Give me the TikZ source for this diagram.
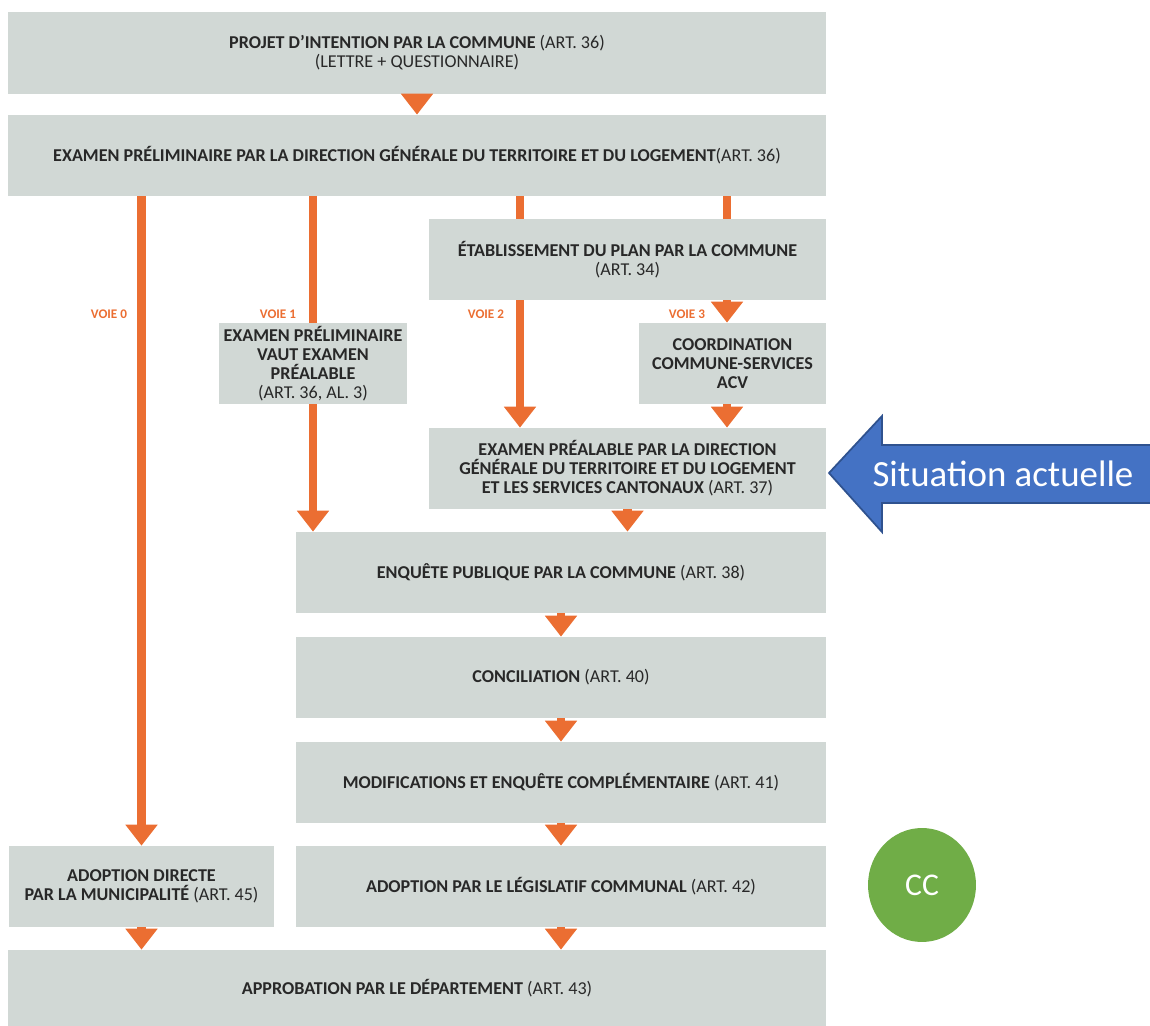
\documentclass[tikz,border=0pt]{standalone}
\usepackage{fontspec}
\setmainfont{Carlito}
\usetikzlibrary{arrows.meta,shapes.geometric}

\definecolor{gris}{RGB}{209,216,213}
\definecolor{orangevoie}{RGB}{235,110,50}
\definecolor{texte}{RGB}{40,40,40}
\definecolor{bleu}{RGB}{68,114,196}
\definecolor{bleufonce}{RGB}{47,82,143}
\definecolor{vert}{RGB}{112,173,71}

\begin{document}
\begin{tikzpicture}[x=0.02cm, y=-0.02cm,
    etape/.style={fill=gris, inner sep=0pt, align=center, text=texte,
        minimum height=1.62cm, font=\bfseries\fontsize{10.3}{10.9}\selectfont},
    trait/.style={draw=orangevoie, line width=0.17cm},
    fleche/.style={trait, -{Triangle[width=0.62cm,length=0.42cm]}},
    voie/.style={text=orangevoie, font=\bfseries\fontsize{7.5}{8}\selectfont}]
    \useasboundingbox (0, 0) rectangle (1150, 1026);

    % les étapes
    \node[etape, minimum width=16.36cm, minimum height=1.64cm] (projet) at (417, 53)
        {PROJET D'INTENTION PAR LA COMMUNE {\mdseries(ART. 36)}\\ {\mdseries(LETTRE + QUESTIONNAIRE)}};
    \node[etape, minimum width=16.36cm] (prelim) at (417, 155.5)
        {EXAMEN PRÉLIMINAIRE PAR LA DIRECTION GÉNÉRALE DU TERRITOIRE ET DU LOGEMENT{\mdseries(ART. 36)}};
    \node[etape, minimum width=7.94cm] (etab) at (627.5, 259.5)
        {ÉTABLISSEMENT DU PLAN PAR LA COMMUNE\\ {\mdseries(ART. 34)}};
    \node[etape, minimum width=3.76cm] (vaut) at (313, 363.5)
        {EXAMEN PRÉLIMINAIRE\\ VAUT EXAMEN\\ PRÉALABLE\\ {\mdseries(ART. 36, AL. 3)}};
    \node[etape, minimum width=3.74cm] (coord) at (732.5, 363.5)
        {COORDINATION\\ COMMUNE-SERVICES\\ ACV};
    \node[etape, minimum width=7.94cm] (prealable) at (627.5, 468.5)
        {EXAMEN PRÉALABLE PAR LA DIRECTION\\ GÉNÉRALE DU TERRITOIRE ET DU LOGEMENT\\ ET LES SERVICES CANTONAUX {\mdseries(ART. 37)}};
    \node[etape, minimum width=10.6cm] (enquete) at (561, 572.5)
        {ENQUÊTE PUBLIQUE PAR LA COMMUNE {\mdseries(ART. 38)}};
    \node[etape, minimum width=10.6cm] (concil) at (561, 677.5)
        {CONCILIATION {\mdseries(ART. 40)}};
    \node[etape, minimum width=10.6cm] (modifs) at (561, 782.5)
        {MODIFICATIONS ET ENQUÊTE COMPLÉMENTAIRE {\mdseries(ART. 41)}};
    \node[etape, minimum width=10.6cm] (legis) at (561, 886.5)
        {ADOPTION PAR LE LÉGISLATIF COMMUNAL {\mdseries(ART. 42)}};
    \node[etape, minimum width=5.3cm] (directe) at (141.5, 886.5)
        {ADOPTION DIRECTE\\ PAR LA MUNICIPALITÉ {\mdseries(ART. 45)}};
    \node[etape, minimum width=16.36cm, minimum height=1.52cm] (approb) at (417, 988)
        {APPROBATION PAR LE DÉPARTEMENT {\mdseries(ART. 43)}};

    % colonnes des voies 2 et 3
    \coordinate (v2) at (520, 0);
    \coordinate (v3) at (727, 0);

    \draw[fleche] (projet) -- (prelim);
    % voie 0
    \draw[fleche] (prelim.south -| directe.north) -- (directe.north);
    % voie 1
    \draw[trait] (prelim.south -| vaut.north) -- (vaut.north);
    \draw[fleche] (vaut.south) -- (vaut.south |- enquete.north);
    % voie 2
    \draw[trait] (prelim.south -| v2) -- (etab.north -| v2);
    \draw[fleche] (etab.south -| v2) -- (prealable.north -| v2);
    % voie 3
    \draw[trait] (prelim.south -| v3) -- (etab.north -| v3);
    \draw[fleche] (etab.south -| v3) -- (coord.north -| v3);
    \draw[fleche] (coord.south -| v3) -- (prealable.north -| v3);

    \draw[fleche] (prealable) -- (prealable |- enquete.north);
    \draw[fleche] (enquete) -- (concil);
    \draw[fleche] (concil) -- (modifs);
    \draw[fleche] (modifs) -- (legis);
    \draw[fleche] (directe) -- (directe |- approb.north);
    \draw[fleche] (legis) -- (legis |- approb.north);

    \node[voie] (voie0) at (109, 314) {VOIE 0};
    \node[voie] (voie1) at (278, 314) {VOIE 1};
    \node[voie] (voie2) at (486, 314) {VOIE 2};
    \node[voie] (voie3) at (687, 314) {VOIE 3};

    % flèche bleue
    \draw[fill=bleu, draw=bleufonce, line width=1pt]
        (829, 473) -- (882, 416) -- (882, 445) -- (1160, 445)
        -- (1160, 503) -- (882, 503) -- (882, 532) -- cycle;
    \node[text=white, font=\fontsize{21}{25}\selectfont] (situation) at (1003, 474)
        {Situation actuelle};

    \node[ellipse, fill=vert, text=white, minimum width=2.16cm, minimum height=2.28cm,
        font=\fontsize{18}{22}\selectfont] (cc) at (922, 885) {CC};
\end{tikzpicture}
\end{document}
